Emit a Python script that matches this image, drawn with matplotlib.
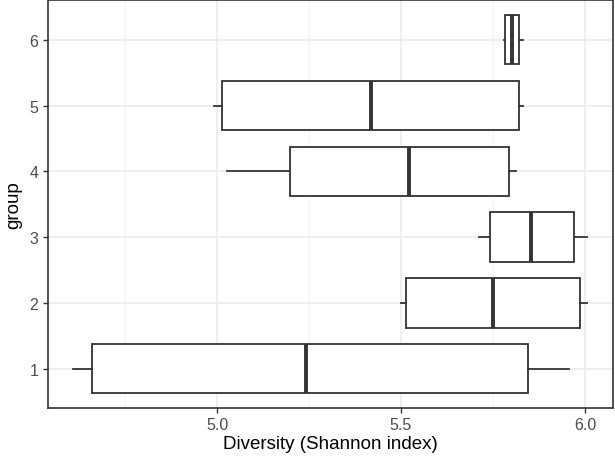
import matplotlib
matplotlib.use("Agg")
import matplotlib.pyplot as plt
from matplotlib.ticker import MultipleLocator

plt.rcParams['font.family'] = ['Liberation Sans', 'DejaVu Sans']

groups = ["1", "2", "3", "4", "5", "6"]
whislo = [4.609, 5.499, 5.711, 5.027, 4.992, 5.780]
q1     = [4.659, 5.513, 5.741, 5.199, 5.014, 5.784]
med    = [5.241, 5.751, 5.854, 5.521, 5.418, 5.801]
q3     = [5.846, 5.988, 5.971, 5.793, 5.821, 5.822]
whishi = [5.957, 6.006, 6.006, 5.812, 5.833, 5.833]
x_ticks = [5.0, 5.5, 6.0]
x_label = "Diversity (Shannon index)"
y_label = "group"

stats = []
for i, g in enumerate(groups):
    stats.append(dict(label=g, whislo=whislo[i], q1=q1[i], med=med[i],
                      q3=q3[i], whishi=whishi[i], fliers=[]))

fig = plt.figure(figsize=(6.15, 4.6), dpi=100)
left, right, top, bottom = 47.5, 612.8, 1.2, 409.3
ax = fig.add_axes([left / 615, (460 - bottom) / 460, (right - left) / 615, (bottom - top) / 460])

dark = "#333333"
ax.bxp(stats, positions=range(1, len(groups) + 1), vert=False, widths=0.75,
       showcaps=False, patch_artist=True,
       boxprops=dict(facecolor="white", edgecolor=dark, linewidth=1.3),
       whiskerprops=dict(color=dark, linewidth=1.3),
       medianprops=dict(color=dark, linewidth=2.8, solid_capstyle="butt"),
       zorder=3)

lo = min(whislo); hi = max(whishi)
pad = (hi - lo) * 0.05
ax.set_xlim(lo - pad, hi + pad)
ax.set_ylim(0.4, 6.6)

ax.set_xticks(x_ticks)
ax.set_xticklabels([f"{t:.1f}" for t in x_ticks])
ax.xaxis.set_minor_locator(MultipleLocator(0.25))
ax.set_yticks(range(1, len(groups) + 1))
ax.set_yticklabels(groups)

ax.grid(True, which="major", color="#EBEBEB", linewidth=1.1, zorder=0)
ax.grid(True, which="minor", axis="x", color="#F2F2F2", linewidth=0.6, zorder=0)
ax.set_axisbelow(True)
ax.tick_params(axis="both", which="major", colors="#333333", length=3.5, width=1.0,
               labelsize=11.5, labelcolor="#4D4D4D", pad=3)
ax.tick_params(axis="x", which="minor", length=0)
for s in ax.spines.values():
    s.set_color("#333333")
    s.set_linewidth(1.2)

ax.set_xlabel(x_label, fontsize=13.5, color="black", labelpad=2)
ax.set_ylabel(y_label, fontsize=13.5, color="black", labelpad=5)

fig.savefig("out.png", dpi=100)
